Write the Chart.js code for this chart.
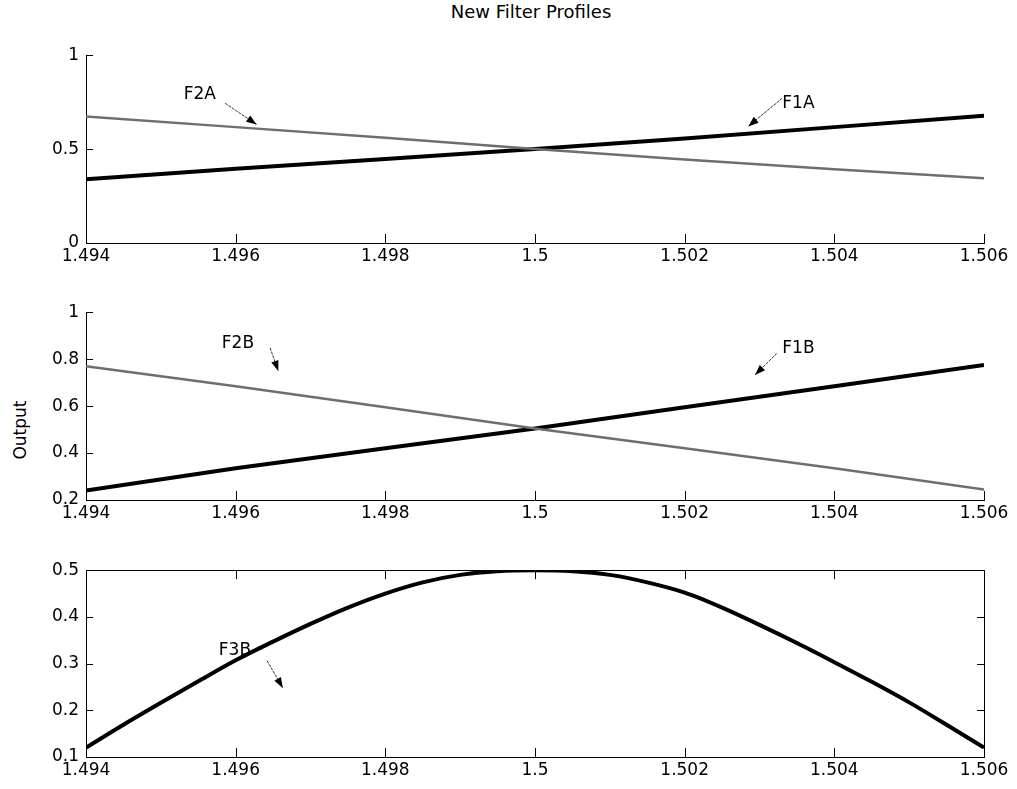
<!DOCTYPE html>
<html>
<head>
<meta charset="utf-8">
<script src="https://cdn.jsdelivr.net/npm/chart.js@4.4.1/dist/chart.umd.min.js"></script>
<style>
  body { margin: 0; background: #fff; width: 1017px; height: 789px; position: relative; overflow: hidden; font-family: "DejaVu Sans", sans-serif; }
  .panel { position: absolute; left: 0; width: 1017px; }
  #title { position: absolute; top: 1px; left: 381px; width: 300px; text-align: center; font-size: 18px; color: #000; }
  #ylabel { position: absolute; left: -20px; top: 420px; width: 80px; text-align: center; font-size: 17px; transform: rotate(-90deg); color: #000; }
</style>
</head>
<body>
<div id="title">New Filter Profiles</div>
<div id="ylabel">Output</div>
<div class="panel" style="top:38px;height:235px"><canvas id="chartA"></canvas></div>
<div class="panel" style="top:295px;height:235px"><canvas id="chartB"></canvas></div>
<div class="panel" style="top:553px;height:234px"><canvas id="chartC"></canvas></div>
<script>
// wavelength axis
const lambda = [1.494, 1.496, 1.498, 1.500, 1.502, 1.504, 1.506];
const lambdaFine = [1.494, 1.4945, 1.495, 1.4955, 1.496, 1.4965, 1.497, 1.4975, 1.498, 1.4985, 1.499, 1.4995, 1.500,
                    1.5005, 1.501, 1.5015, 1.502, 1.5025, 1.503, 1.5035, 1.504, 1.5045, 1.505, 1.5055, 1.506];

// filter outputs
const f1a = [0.34, 0.395, 0.447, 0.50, 0.557, 0.617, 0.677];
const f2a = [0.674, 0.617, 0.56, 0.50, 0.445, 0.393, 0.345];
const f1b = [0.24, 0.335, 0.42, 0.505, 0.595, 0.685, 0.775];
const f2b = [0.77, 0.685, 0.595, 0.505, 0.42, 0.335, 0.245];
const f3b = [0.12, 0.169, 0.216, 0.262, 0.307, 0.347, 0.385, 0.42, 0.45, 0.474, 0.49, 0.498, 0.50,
             0.498, 0.49, 0.474, 0.452, 0.42, 0.383, 0.344, 0.303, 0.261, 0.217, 0.169, 0.12];

// tick labels
const xTicks = [1.494, 1.496, 1.498, 1.5, 1.502, 1.504, 1.506];
const yTicksA = [0, 0.5, 1];
const yTicksB = [0.2, 0.4, 0.6, 0.8, 1];
const yTicksC = [0.1, 0.2, 0.3, 0.4, 0.5];

const pts = (xs, ys) => xs.map((x, i) => ({ x: x, y: ys[i] }));
const fmt = v => String(Number(v.toFixed(3)));

// inward tick marks, optional box, arrows with labels
const matlabAxes = {
    id: 'matlabAxes',
    afterDraw(chart, args, opts) {
        const { ctx, chartArea: a } = chart;
        const x = chart.scales.x, y = chart.scales.y;
        ctx.save();
        ctx.strokeStyle = '#000';
        ctx.lineWidth = 1;
        ctx.beginPath();
        x.ticks.forEach(t => {
            const px = Math.round(x.getPixelForValue(t.value)) + 0.5;
            ctx.moveTo(px, a.bottom); ctx.lineTo(px, a.bottom - 9);
            if (opts.box) { ctx.moveTo(px, a.top); ctx.lineTo(px, a.top + 9); }
        });
        y.ticks.forEach(t => {
            const py = Math.round(y.getPixelForValue(t.value)) + 0.5;
            ctx.moveTo(a.left, py); ctx.lineTo(a.left + 7, py);
            if (opts.box) { ctx.moveTo(a.right, py); ctx.lineTo(a.right - 7, py); }
        });
        if (opts.box) ctx.rect(Math.round(a.left) + 0.5, Math.round(a.top) + 0.5, Math.round(a.right - a.left), Math.round(a.bottom - a.top));
        ctx.stroke();

        (opts.notes || []).forEach(n => {
            ctx.fillStyle = '#000';
            ctx.font = '17px "DejaVu Sans", sans-serif';
            ctx.textAlign = 'center';
            ctx.textBaseline = 'middle';
            ctx.fillText(n.text, x.getPixelForValue(n.tx), y.getPixelForValue(n.ty));
            const x1 = x.getPixelForValue(n.from[0]), y1 = y.getPixelForValue(n.from[1]);
            const x2 = x.getPixelForValue(n.to[0]), y2 = y.getPixelForValue(n.to[1]);
            ctx.strokeStyle = '#333';
            ctx.setLineDash([3, 1]);
            ctx.beginPath(); ctx.moveTo(x1, y1); ctx.lineTo(x2, y2); ctx.stroke();
            ctx.setLineDash([]);
            const ang = Math.atan2(y2 - y1, x2 - x1);
            const len = 11, w = 0.35;
            ctx.beginPath();
            ctx.moveTo(x2, y2);
            ctx.lineTo(x2 - len * Math.cos(ang - w), y2 - len * Math.sin(ang - w));
            ctx.lineTo(x2 - len * Math.cos(ang + w), y2 - len * Math.sin(ang + w));
            ctx.closePath();
            ctx.fill();
        });
        ctx.restore();
    }
};

function makePanel(id, datasets, yTicks, yMin, yMax, box, notes) {
    new Chart(document.getElementById(id).getContext('2d'), {
        type: 'scatter',
        data: { datasets: datasets },
        plugins: [matlabAxes],
        options: {
            responsive: true,
            maintainAspectRatio: false,
            animation: false,
            layout: { padding: { left: 0, right: 33, top: 10, bottom: 0 } },
            plugins: {
                legend: { display: false },
                tooltip: { enabled: false },
                matlabAxes: { box: box, notes: notes }
            },
            elements: { point: { radius: 0 } },
            scales: {
                x: {
                    type: 'linear', min: 1.494, max: 1.506,
                    afterBuildTicks: s => { s.ticks = xTicks.map(v => ({ value: v })); },
                    afterFit: s => { s.height = 30; },
                    grid: { display: false, drawTicks: false },
                    border: { display: true, color: '#000', width: 1 },
                    ticks: { color: '#000', padding: 3, maxRotation: 0, autoSkip: false,
                             font: { family: '"DejaVu Sans", sans-serif', size: 17 }, callback: fmt }
                },
                y: {
                    type: 'linear', min: yMin, max: yMax,
                    afterBuildTicks: s => { s.ticks = yTicks.map(v => ({ value: v })); },
                    afterFit: s => { s.width = 86; },
                    grid: { display: false, drawTicks: false },
                    border: { display: true, color: '#000', width: 1 },
                    ticks: { color: '#000', padding: 7,
                             font: { family: '"DejaVu Sans", sans-serif', size: 17 }, callback: fmt }
                }
            }
        }
    });
}

const thick = { borderColor: '#000', borderWidth: 4, showLine: true, tension: 0, fill: false };
const thin = { borderColor: '#6e6e6e', borderWidth: 2.5, showLine: true, tension: 0, fill: false };

makePanel('chartA', [
    Object.assign({ label: 'F2A', data: pts(lambda, f2a) }, thin),
    Object.assign({ label: 'F1A', data: pts(lambda, f1a) }, thick)
], yTicksA, 0, 1, false, [
    { text: 'F2A', tx: 1.49552, ty: 0.79, from: [1.49586, 0.744], to: [1.49628, 0.631] },
    { text: 'F1A', tx: 1.50352, ty: 0.744, from: [1.50330, 0.770], to: [1.50285, 0.621] }
]);

makePanel('chartB', [
    Object.assign({ label: 'F2B', data: pts(lambda, f2b) }, thin),
    Object.assign({ label: 'F1B', data: pts(lambda, f1b) }, thick)
], yTicksB, 0.2, 1, false, [
    { text: 'F2B', tx: 1.49603, ty: 0.865, from: [1.49646, 0.848], to: [1.49657, 0.750] },
    { text: 'F1B', tx: 1.50352, ty: 0.844, from: [1.50323, 0.824], to: [1.50294, 0.733] }
]);

makePanel('chartC', [
    Object.assign({ label: 'F3B', data: pts(lambdaFine, f3b) }, thick, { cubicInterpolationMode: 'monotone' })
], yTicksC, 0.1, 0.5, true, [
    { text: 'F3B', tx: 1.49599, ty: 0.327, from: [1.49642, 0.306], to: [1.49663, 0.248] }
]);
</script>
</body>
</html>
